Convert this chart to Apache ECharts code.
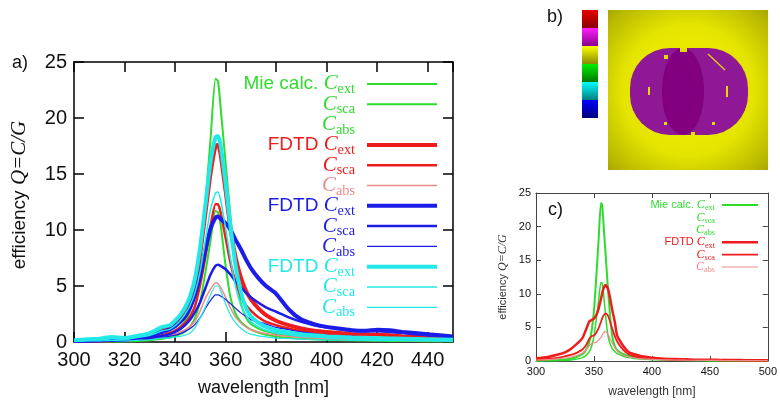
<!DOCTYPE html>
<html>
<head>
<meta charset="UTF-8">
<script src="https://cdn.jsdelivr.net/npm/echarts@6/dist/echarts.min.js"></script>
</head>
<body style="margin:0; background:#fff">
<div id="container" style="width:780px;height:405px"></div>
<script>
// panel a: common wavelength grid (nm)
var wl = [300,305,310,315,320,325,330,335,338,340,342,344,346,348,350,352,354,356,357,358,360,362,364,366,368,370,373,376,380,385,390,395,400,405,410,415,420,425,430,440,450];

var mieExt = [0.05,0.07,0.1,0.12,0.15,0.22,0.35,0.6,0.85,1.0,1.35,1.9,2.8,4.5,7.5,12.5,18,23.5,23.3,21,16,11,6.5,3.5,2.2,1.6,1.2,0.95,0.75,0.6,0.48,0.4,0.33,0.28,0.24,0.21,0.18,0.16,0.14,0.11,0.09];
var mieSca = [0.02,0.03,0.04,0.05,0.06,0.09,0.15,0.28,0.4,0.5,0.7,0.95,1.4,2.2,3.7,6.2,9,11.7,11.6,10.5,6.8,3.9,2.5,1.8,1.4,1.1,0.85,0.65,0.5,0.38,0.3,0.25,0.2,0.17,0.15,0.13,0.11,0.1,0.09,0.07,0.05];

var redExt = [0.1,0.12,0.15,0.2,0.3,0.45,0.7,1.1,1.4,1.7,2.2,2.8,3.7,5.2,8,11.5,15,17.5,17.6,16.8,13.5,10,7.5,5.8,4.6,3.8,3.0,2.4,1.9,1.5,1.2,1.0,0.9,0.8,0.7,0.65,0.65,0.6,0.5,0.4,0.3];
var redSca = [0.05,0.06,0.08,0.1,0.15,0.22,0.35,0.6,0.8,1.0,1.3,1.7,2.3,3.3,5.2,7.6,10.3,12.3,12.3,11.6,9.3,7,5.3,4.1,3.3,2.8,2.2,1.8,1.5,1.2,0.95,0.8,0.7,0.6,0.55,0.5,0.5,0.45,0.4,0.3,0.22];
var redAbs = [0.05,0.06,0.07,0.1,0.15,0.22,0.35,0.5,0.6,0.7,0.9,1.1,1.4,1.9,2.8,3.9,4.7,5.3,5.2,4.9,4.0,3.0,2.2,1.7,1.35,1.1,0.9,0.75,0.6,0.5,0.4,0.35,0.3,0.27,0.24,0.22,0.2,0.18,0.16,0.13,0.1];

var blueExt = [0.1,0.12,0.15,0.2,0.25,0.4,0.6,0.9,1.15,1.4,1.8,2.3,3.1,4.3,6,8.2,10.1,11.1,11.2,11.0,10.6,10.0,9.1,8.3,7.4,6.6,5.7,5.0,4.3,2.9,2.0,1.6,1.35,1.2,1.05,1.0,1.1,1.05,0.9,0.7,0.5];
var blueSca = [0.05,0.07,0.1,0.12,0.15,0.25,0.35,0.55,0.7,0.9,1.15,1.5,2.0,2.7,3.6,4.8,6.0,6.8,6.9,6.8,6.5,6.0,5.4,4.9,4.4,4.0,3.5,3.1,2.7,2.2,1.8,1.5,1.3,1.15,1.0,0.95,0.95,0.9,0.8,0.6,0.45];
var blueAbs = [0.05,0.05,0.06,0.08,0.1,0.18,0.3,0.42,0.52,0.6,0.75,0.95,1.2,1.6,2.2,3.0,3.7,4.2,4.2,4.1,3.8,3.4,3.0,2.6,2.3,2.0,1.8,1.6,1.3,1.1,0.9,0.75,0.6,0.55,0.5,0.45,0.4,0.35,0.3,0.25,0.2];

var cyanExt = [0.15,0.25,0.3,0.45,0.35,0.55,0.8,1.35,1.5,1.9,2.4,3.1,4.1,5.8,8.6,12.2,16,18.3,18.4,17.6,14.2,10.2,6.8,4.5,3.1,2.3,1.7,1.35,1.05,0.85,0.7,0.6,0.5,0.45,0.4,0.38,0.35,0.32,0.3,0.25,0.2];
var cyanSca = [0.1,0.15,0.2,0.3,0.25,0.4,0.6,1.0,1.15,1.45,1.9,2.5,3.3,4.5,6.4,9.1,11.8,13.3,13.4,12.7,10.2,7.3,4.9,3.3,2.4,1.8,1.35,1.05,0.8,0.65,0.5,0.45,0.38,0.33,0.3,0.28,0.25,0.23,0.21,0.18,0.15];
var cyanAbs = [0.05,0.1,0.1,0.15,0.1,0.15,0.2,0.35,0.35,0.45,0.5,0.6,0.8,1.3,2.2,3.1,4.2,5.0,5.0,4.6,3.4,2.4,1.7,1.25,0.9,0.7,0.55,0.45,0.35,0.3,0.25,0.2,0.18,0.16,0.15,0.14,0.13,0.12,0.11,0.1,0.08];

// panel c: wavelength grid (nm)
var wlC = [300,310,320,325,330,335,340,343,346,348,350,352,354,356,357,358,360,362,364,366,368,370,375,380,385,390,400,410,420,430,440,450,460,470,480,490,500];
var cMieExt = [0.05,0.1,0.15,0.22,0.35,0.6,1.0,1.6,2.8,4.5,7.5,12.5,18,23.5,23.3,21,16,11,6.5,3.5,2.2,1.6,1.05,0.75,0.6,0.48,0.33,0.24,0.18,0.14,0.11,0.09,0.08,0.07,0.06,0.05,0.05];
var cMieSca = [0.02,0.04,0.06,0.09,0.15,0.28,0.5,0.8,1.4,2.2,3.7,6.2,9,11.7,11.6,10.5,6.8,3.9,2.5,1.8,1.4,1.1,0.75,0.5,0.38,0.3,0.2,0.15,0.11,0.09,0.07,0.05,0.05,0.04,0.04,0.03,0.03];
var cRedExt = [0.4,0.6,1.0,1.3,1.8,2.5,3.4,4.6,5.9,6.1,6.3,6.8,7.8,9.2,10.0,10.7,11.3,10.8,9.3,7.4,5.8,3.8,2.3,1.3,1.0,0.75,0.5,0.35,0.3,0.25,0.2,0.2,0.15,0.15,0.12,0.1,0.1];
var cRedSca = [0.2,0.3,0.5,0.7,0.9,1.2,1.7,2.3,3.3,3.7,3.8,4.2,4.9,5.8,6.3,6.7,7.1,6.8,5.8,4.7,3.7,2.9,1.7,1.0,0.7,0.5,0.35,0.25,0.2,0.17,0.15,0.13,0.1,0.1,0.08,0.07,0.06];
var cRedAbs = [0.15,0.2,0.35,0.45,0.6,0.8,1.2,1.6,2.3,2.6,2.7,2.8,3.1,3.5,3.8,4.1,4.4,4.0,3.3,2.6,2.0,1.5,0.9,0.6,0.45,0.35,0.25,0.18,0.15,0.12,0.1,0.1,0.08,0.07,0.06,0.05,0.05];

var GREEN = '#2edc2e', RED = '#ee1c1c', PINK = '#f08a8a', BLUE = '#1c1ce8', CYAN = '#22e8e8';
var SANS = 'Liberation Sans', SERIF = 'Liberation Serif';

function pairs(x, y) { return x.map(function (v, i) { return [v, y[i]]; }); }

function line(name, x, y, color, width, grid) {
  return {
    name: name, type: 'line', data: pairs(x, y),
    xAxisIndex: grid * 2, yAxisIndex: grid * 2,
    showSymbol: false, smooth: 0.2, silent: true,
    lineStyle: { color: color, width: width }
  };
}

function xAx(grid, pos, min, max, step, col, tick, font, show) {
  return {
    gridIndex: grid, type: 'value', position: pos, min: min, max: max, interval: step,
    axisLine: { onZero: false, lineStyle: { color: col, width: grid === 0 ? 1.5 : 1 } },
    axisTick: { inside: true, length: tick, lineStyle: { color: col, width: grid === 0 ? 1.5 : 1 } },
    axisLabel: { show: show, fontSize: font, color: '#111', fontFamily: SANS, margin: grid === 0 ? 8 : 5, showMaxLabel: grid === 0 ? false : true },
    splitLine: { show: false }
  };
}

var myChart = echarts.init(document.getElementById('container'), null, { renderer: 'canvas' });

var xa0 = xAx(0, 'bottom', 300, 450, 20, '#000', 10, 20, true);
xa0.name = 'wavelength [nm]';
xa0.nameLocation = 'middle'; xa0.nameGap = 37;
xa0.nameTextStyle = { fontSize: 18, fontFamily: SANS, color: '#111' };
var ya0 = xAx(0, 'left', 0, 25, 5, '#000', 10, 20, true);
ya0.axisLabel.margin = 7; ya0.axisLabel.showMaxLabel = true;
ya0.name = '{n|efficiency }{q|Q=C/G}';
ya0.nameLocation = 'middle'; ya0.nameGap = 44; ya0.nameRotate = 90;
ya0.nameTextStyle = { padding: [0, 0, 0, 14], rich: {
  n: { fontSize: 19, fontFamily: SANS, color: '#111' },
  q: { fontSize: 21, fontFamily: SERIF, fontStyle: 'italic', color: '#111' } } };

var xc0 = xAx(1, 'bottom', 300, 500, 50, '#444', 5, 11, true);
xc0.name = 'wavelength [nm]';
xc0.nameLocation = 'middle'; xc0.nameGap = 25;
xc0.nameTextStyle = { fontSize: 12, fontFamily: SANS, color: '#333' };
var yc0 = xAx(1, 'left', 0, 25, 5, '#444', 5, 11, true);
yc0.name = '{n|efficiency }{q|Q=C/G}';
yc0.nameLocation = 'middle'; yc0.nameGap = 27; yc0.nameRotate = 90;
yc0.nameTextStyle = { rich: {
  n: { fontSize: 11, fontFamily: SANS, color: '#333' },
  q: { fontSize: 12, fontFamily: SERIF, fontStyle: 'italic', color: '#333' } } };

// legend rows (label, color, line width; 0 = no sample line)
var legA = [
  ['Mie calc. ', 'ext', GREEN, 2], ['', 'sca', GREEN, 2], ['', 'abs', GREEN, 0],
  ['FDTD ', 'ext', RED, 4], ['', 'sca', RED, 2.5], ['', 'abs', PINK, 1.5],
  ['FDTD ', 'ext', BLUE, 4], ['', 'sca', BLUE, 2.5], ['', 'abs', BLUE, 1.2],
  ['FDTD ', 'ext', CYAN, 4], ['', 'sca', CYAN, 1.5], ['', 'abs', CYAN, 1.2]
];
var legC = [
  ['Mie calc. ', 'ext', GREEN, 2], ['', 'sca', GREEN, 0], ['', 'abs', GREEN, 0],
  ['FDTD ', 'ext', RED, 2.5], ['', 'sca', RED, 1.8], ['', 'abs', PINK, 1.2]
];

var graphics = [];
function legend(rows, xr, x1, x2, y0, dy, fs) {
  rows.forEach(function (r, i) {
    var y = y0 + i * dy;
    graphics.push({
      type: 'text', x: xr, y: y, silent: true,
      style: {
        text: (r[0] ? '{n|' + r[0] + '}' : '') + '{c|C}{s|' + r[1] + '}',
        align: 'right', verticalAlign: 'middle',
        rich: {
          n: { fontSize: fs, fontFamily: SANS, fill: r[2], lineHeight: fs * 1.3 },
          c: { fontSize: fs * 1.1, fontFamily: SERIF, fontStyle: 'italic', fill: r[2], lineHeight: fs * 1.3 },
          s: { fontSize: fs * 0.75, fontFamily: SERIF, fill: r[2], lineHeight: fs * 0.7, verticalAlign: 'bottom' }
        }
      }
    });
    if (r[3] > 0) {
      graphics.push({ type: 'line', silent: true, shape: { x1: x1, y1: y, x2: x2, y2: y },
        style: { stroke: r[2], lineWidth: r[3] } });
    }
  });
}
legend(legA, 355, 367, 437, 84, 20.3, 19);
legend(legC, 715, 722, 758, 205, 12.4, 11);

graphics.push(
  { type: 'text', x: 12, y: 63, style: { text: 'a)', fontSize: 18, fontFamily: SANS, fill: '#111', verticalAlign: 'middle' } },
  { type: 'text', x: 547, y: 17, style: { text: 'b)', fontSize: 18, fontFamily: SANS, fill: '#111', verticalAlign: 'middle' } },
  { type: 'text', x: 548, y: 210, style: { text: 'c)', fontSize: 18, fontFamily: SANS, fill: '#111', verticalAlign: 'middle' } }
);

// panel b: colour scale
var barCols = [['#e60000', '#8a0000'], ['#ff20ff', '#8a008a'], ['#ffff00', '#8a8a00'],
  ['#00ee00', '#007a00'], ['#00ffff', '#008080'], ['#0000ff', '#00007a']];
barCols.forEach(function (c, i) {
  graphics.push({ type: 'rect', silent: true, shape: { x: 582, y: 10 + i * 18, width: 16, height: 18 },
    style: { fill: new echarts.graphic.LinearGradient(0, 0, 0, 1, [{ offset: 0, color: c[0] }, { offset: 1, color: c[1] }]) } });
});
// panel b: field map
var Y = '#e2dc00';
graphics.push(
  { type: 'rect', silent: true, shape: { x: 608, y: 10, width: 160, height: 160 },
    style: { fill: new echarts.graphic.RadialGradient(0.5, 0.5, 0.75, [
      { offset: 0, color: '#f4f400' }, { offset: 0.55, color: '#e4e400' },
      { offset: 0.85, color: '#b8b800' }, { offset: 1, color: '#9c9c00' }]) } },
  { type: 'rect', silent: true, shape: { x: 630, y: 48, width: 118, height: 87, r: 40 },
    style: { fill: '#8e1896' } },
  { type: 'ellipse', silent: true, shape: { cx: 683, cy: 91.5, rx: 21, ry: 43.5 },
    style: { fill: '#82007f' } },
  { type: 'rect', silent: true, shape: { x: 680, y: 48, width: 7, height: 4 }, style: { fill: Y } },
  { type: 'rect', silent: true, shape: { x: 691, y: 132, width: 4, height: 3 }, style: { fill: Y } },
  { type: 'rect', silent: true, shape: { x: 648, y: 87, width: 2, height: 8 }, style: { fill: Y } },
  { type: 'rect', silent: true, shape: { x: 726, y: 86, width: 2, height: 11 }, style: { fill: Y } },
  { type: 'rect', silent: true, shape: { x: 664, y: 55, width: 4, height: 4 }, style: { fill: Y } },
  { type: 'line', silent: true, shape: { x1: 708, y1: 54, x2: 725, y2: 70 }, style: { stroke: Y, lineWidth: 1.2 } },
  { type: 'rect', silent: true, shape: { x: 664, y: 122, width: 3, height: 3 }, style: { fill: Y } },
  { type: 'rect', silent: true, shape: { x: 712, y: 122, width: 3, height: 3 }, style: { fill: Y } }
);

var option = {
  animation: false,
  backgroundColor: '#fff',
  grid: [
    { left: 74, top: 62, width: 379, height: 280 },
    { left: 536, top: 193, width: 237, height: 168 }
  ],
  xAxis: [
    xa0, xAx(0, 'top', 300, 450, 20, '#000', 10, 20, false),
    xc0, xAx(1, 'top', 300, 500, 50, '#444', 5, 11, false)
  ],
  yAxis: [
    ya0, xAx(0, 'right', 0, 25, 5, '#000', 10, 20, false),
    yc0, xAx(1, 'right', 0, 25, 5, '#444', 5, 11, false)
  ],
  series: [
    line('Mie Cext', wl, mieExt, GREEN, 2, 0),
    line('Mie Csca', wl, mieSca, GREEN, 2, 0),
    line('FDTD red Cext', wl, redExt, RED, 4, 0),
    line('FDTD red Csca', wl, redSca, RED, 2.5, 0),
    line('FDTD red Cabs', wl, redAbs, PINK, 1.5, 0),
    line('FDTD blue Cext', wl, blueExt, BLUE, 4, 0),
    line('FDTD blue Csca', wl, blueSca, BLUE, 2.5, 0),
    line('FDTD blue Cabs', wl, blueAbs, BLUE, 1.2, 0),
    line('FDTD cyan Cext', wl, cyanExt, CYAN, 4, 0),
    line('FDTD cyan Csca', wl, cyanSca, CYAN, 1.5, 0),
    line('FDTD cyan Cabs', wl, cyanAbs, CYAN, 1.2, 0),
    line('c Mie Cext', wlC, cMieExt, GREEN, 2, 1),
    line('c Mie Csca', wlC, cMieSca, GREEN, 1.5, 1),
    line('c FDTD Cext', wlC, cRedExt, RED, 2.5, 1),
    line('c FDTD Csca', wlC, cRedSca, RED, 1.8, 1),
    line('c FDTD Cabs', wlC, cRedAbs, PINK, 1.2, 1)
  ],
  graphic: graphics
};

myChart.setOption(option);
window.addEventListener('resize', myChart.resize);
</script>
</body>
</html>
